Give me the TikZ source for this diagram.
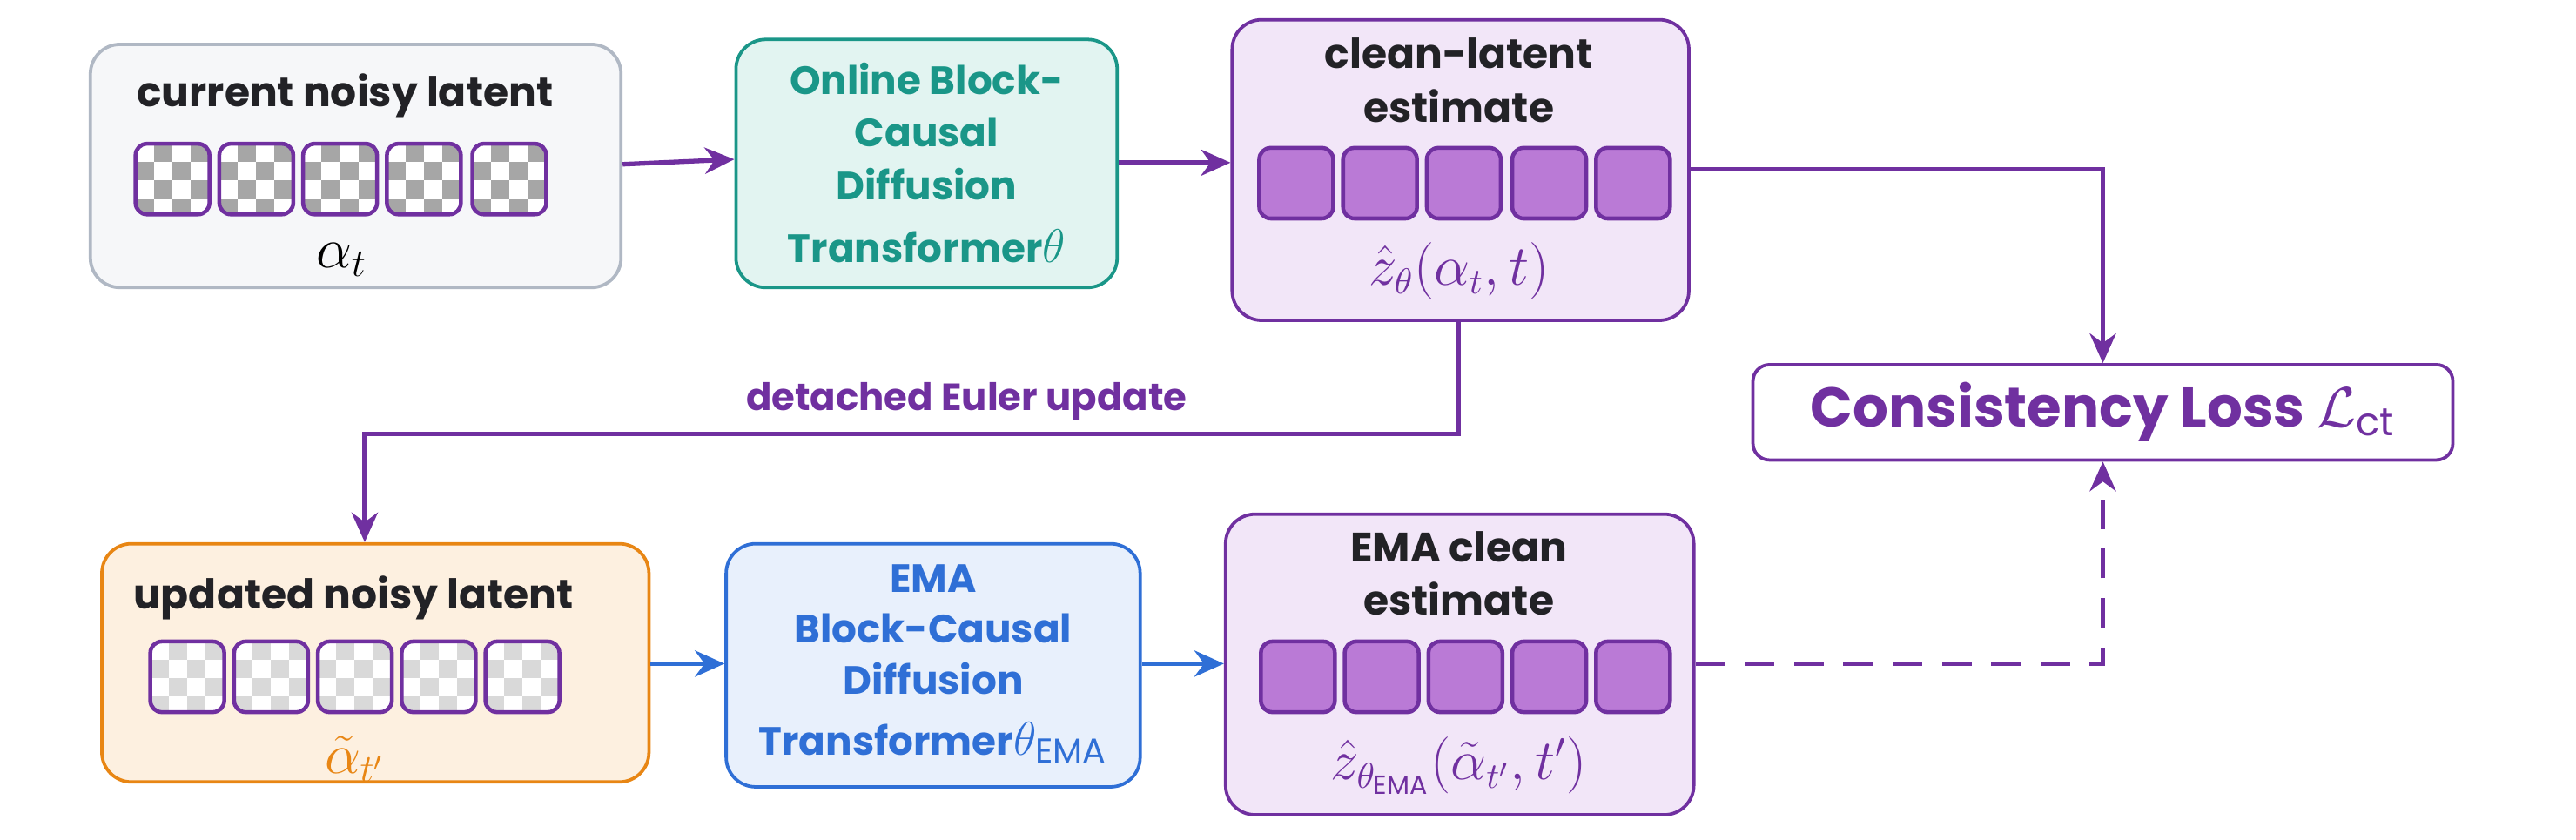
\documentclass[tikz,border=0pt]{standalone}
\usepackage{fontspec}
\setmainfont{Poppins}
\usepackage{amsmath}
\usetikzlibrary{positioning,arrows.meta}
\definecolor{vio}{RGB}{112,48,160}
\definecolor{vioFill}{RGB}{242,230,248}
\definecolor{tokFill}{RGB}{186,122,214}
\definecolor{tealC}{RGB}{26,150,136}
\definecolor{tealFill}{RGB}{226,244,241}
\definecolor{blueC}{RGB}{47,111,214}
\definecolor{blueFill}{RGB}{232,240,252}
\definecolor{oranC}{RGB}{232,134,20}
\definecolor{oranFill}{RGB}{253,240,224}
\definecolor{greyC}{RGB}{176,184,196}
\definecolor{greyFill}{RGB}{246,247,249}
\definecolor{ink}{RGB}{34,34,38}
\tikzset{
  box/.style={draw, line width=1pt, rounded corners=9pt},
  title/.style={font=\bfseries\fontsize{12.5}{15}\selectfont, text=ink, align=center},
  tok/.style={draw=vio, line width=1.2pt, rounded corners=3.5pt, minimum width=22.5pt, minimum height=21.5pt, inner sep=0pt},
  full/.style={tok, fill=tokFill},
  noisy/.style={tok, fill=white, path picture={
      \foreach \i in {0,...,4}{\foreach \j in {0,...,4}{
        \pgfmathparse{int(mod(\i+\j,2))}
        \ifnum\pgfmathresult=1
          \fill[#1, sharp corners] ([xshift=\i*5.6pt,yshift=-\j*5.6pt]path picture bounding box.north west) rectangle ++(11.2,11.2);
        \fi}}}},
  flow/.style={line width=1.4pt, -{Stealth[length=9pt,width=8pt]}}
}
\begin{document}
\begin{tikzpicture}[x=0.5pt,y=-0.5pt]
\useasboundingbox (0,0) rectangle (1568,511);
% boxes
\node (cur) [box, draw=greyC, fill=greyFill, minimum width=161.5pt, minimum height=74pt] at (216.5,101) {};
\node (onl) [box, draw=tealC, fill=tealFill, minimum width=116pt, minimum height=75.5pt] at (564,99.5) {};
\node (cle) [box, draw=vio, fill=vioFill, minimum width=139pt, minimum height=91.5pt] at (889,103.5) {};
\node (loss) [box, draw=vio, fill=white, rounded corners=5pt, minimum width=213pt, minimum height=29pt] at (1280,251) {};
\node (upd) [box, draw=oranC, fill=oranFill, minimum width=166.5pt, minimum height=72.5pt] at (228.5,403.5) {};
\node (ema) [box, draw=blueC, fill=blueFill, minimum width=126pt, minimum height=74pt] at (568,405) {};
\node (emc) [box, draw=vio, fill=vioFill, minimum width=142.5pt, minimum height=91.5pt] at (888.5,404.5) {};
% texts
\node (curT) [title] at (210,58) {current noisy latent};
\node (curL) [font=\fontsize{17}{17}\selectfont] at (208,158) {$\alpha_t$};
\node (onlT) [title, text=tealC, font=\bfseries\fontsize{12}{16}\selectfont] at (564,99) {Online Block-\\Causal\\Diffusion\\[3pt]Transformer{\fontsize{15}{16}\selectfont$\theta$}};
\node (cleT) [title, font=\bfseries\fontsize{12.5}{16.5}\selectfont] at (888,49) {clean-latent\\estimate};
\node (cleL) [text=vio, font=\fontsize{16}{16}\selectfont] at (888,165) {$\hat z_\theta(\alpha_t,t)$};
\node (lossT) [text=vio, font=\bfseries\fontsize{17}{20}\selectfont] at (1280,251) {Consistency Loss $\mathcal{L}_{\mathrm{ct}}$};
\node (updT) [title] at (215,364) {updated noisy latent};
\node (updL) [text=oranC, font=\fontsize{17}{17}\selectfont] at (216,462) {$\tilde\alpha_{t'}$};
\node (emaT) [title, text=blueC, font=\bfseries\fontsize{12}{15.5}\selectfont] at (568,404) {EMA\\Block-Causal\\Diffusion\\[3pt]Transformer{\fontsize{15}{16}\selectfont$\theta_{\mathrm{EMA}}$}};
\node (emcT) [title, font=\bfseries\fontsize{12.5}{16}\selectfont] at (888,349) {EMA clean\\estimate};
\node (emcL) [text=vio, font=\fontsize{16}{16}\selectfont] at (888,466) {$\hat z_{\theta_{\mathrm{EMA}}}(\tilde\alpha_{t'},t')$};
% tokens
\foreach \x [count=\k] in {105,156,207,258,310}
  \node (a\k) [noisy={black!35}] at (\x,109) {};
\foreach \x [count=\k] in {789,840,891,943,994}
  \node (z\k) [full] at (\x,111.5) {};
\foreach \x [count=\k] in {114,165,216,267,318}
  \node (b\k) [noisy={black!15}] at (\x,412) {};
\foreach \x [count=\k] in {790,841,892,943,994}
  \node (y\k) [full] at (\x,412) {};
% connectors
\draw[flow, vio] (cur.east |- 0,100) -- (onl.west |- 0,97);
\draw[flow, vio] (onl.east |- 0,99) -- (cle.west |- 0,99);
\draw[flow, vio] (cle.east |- 0,103) -| (loss.north);
\coordinate (eulA) at (888,264);
\coordinate (eulB) at (222,264);
\draw[flow, vio] (cle.south -| eulA) -- (eulA) -- node[above, pos=0.45, font=\bfseries\fontsize{11.5}{13}\selectfont] {detached Euler update} (eulB) -- (upd.north -| eulB);
\draw[flow, blueC] (upd.east |- 0,404) -- (ema.west |- 0,404);
\draw[flow, blueC] (ema.east |- 0,404) -- (emc.west |- 0,404);
\draw[flow, vio, dashed, dash pattern=on 9pt off 6pt] (emc.east |- 0,404) -| (loss.south);
\end{tikzpicture}
\end{document}
